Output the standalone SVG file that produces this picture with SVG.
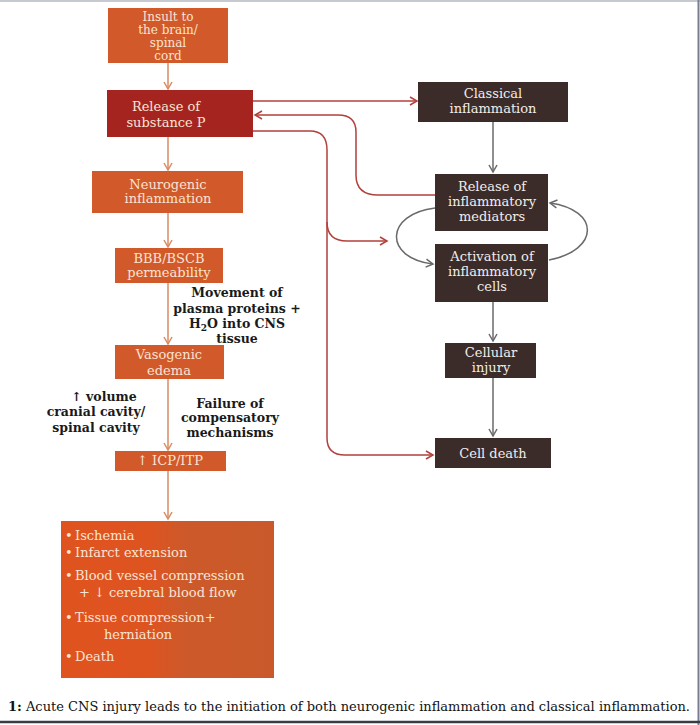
<svg xmlns="http://www.w3.org/2000/svg" width="700" height="725" viewBox="0 0 700 725">
<defs>
<style>
.t{font-family:"DejaVu Serif","Liberation Serif",serif;font-size:13px;text-anchor:middle}
.sm{font-size:12px}
.lt{fill:#f8e4d4}
.wt{fill:#f3ede9;font-size:13px}
.bl{font-family:"DejaVu Serif","Liberation Serif",serif;font-size:12.5px;font-weight:bold;fill:#1a1a1a;text-anchor:middle}
.li{font-family:"DejaVu Serif","Liberation Serif",serif;font-size:13px;fill:#f8e4d4}
.or{fill:#d2592a}
.dk{fill:#3b2b29}
.co{fill:none;stroke-width:1.5}
.c1{stroke:#d98b63}
.c2{stroke:#b3403c}
.c3{stroke:#6a6a6a}
</style>
<marker id="ao" markerWidth="10" markerHeight="10" refX="8" refY="5" orient="auto" markerUnits="userSpaceOnUse"><path d="M1,1 L8,5 L1,9" fill="none" stroke="#d98b63" stroke-width="1.5"/></marker>
<marker id="ar" markerWidth="10" markerHeight="10" refX="8" refY="5" orient="auto" markerUnits="userSpaceOnUse"><path d="M1,1 L8,5 L1,9" fill="none" stroke="#b3403c" stroke-width="1.5"/></marker>
<marker id="ag" markerWidth="10" markerHeight="10" refX="8" refY="5" orient="auto" markerUnits="userSpaceOnUse"><path d="M1,1 L8,5 L1,9" fill="none" stroke="#6a6a6a" stroke-width="1.5"/></marker>
<linearGradient id="lg" x1="0" y1="0" x2="1" y2="0">
<stop offset="0" stop-color="#e0531f"/><stop offset="0.42" stop-color="#dd5421"/><stop offset="0.58" stop-color="#cd592a"/><stop offset="1" stop-color="#c9592b"/>
</linearGradient>
</defs>
<rect width="700" height="725" fill="#ffffff"/>
<line x1="0" y1="1" x2="700" y2="1" stroke="#b4b8c0" stroke-width="1.5"/>
<line x1="698.5" y1="0" x2="698.5" y2="725" stroke="#7a7e90" stroke-width="2"/>
<line x1="0" y1="722" x2="700" y2="722" stroke="#3a3c44" stroke-width="2.5"/>

<g id="connectors">
<path class="co c1" d="M168,63 V89" marker-end="url(#ao)"/>
<path class="co c1" d="M168,137 V170" marker-end="url(#ao)"/>
<path class="co c1" d="M168,213 V247" marker-end="url(#ao)"/>
<path class="co c1" d="M168,283 V344" marker-end="url(#ao)"/>
<path class="co c1" d="M168,379 V450" marker-end="url(#ao)"/>
<path class="co c1" d="M168,471 V519" marker-end="url(#ao)"/>
<path class="co c2" d="M253,101 H417" marker-end="url(#ar)"/>
<path class="co c2" d="M435,195 H378 Q356,195 356,175 V132 Q356,115 338,115 H255" marker-end="url(#ar)"/>
<path class="co c2" d="M253,131 H310 Q327,131 327,150 V438 Q327,455 345,455 H433" marker-end="url(#ar)"/>
<path class="co c2" d="M327,222 Q327,241 347,241 H387" marker-end="url(#ar)"/>
<path class="co c3" d="M493,122 V172" marker-end="url(#ag)"/>
<path class="co c3" d="M435,208 C385,214 383,258 433,264" marker-end="url(#ag)"/>
<path class="co c3" d="M549,260 C600,250 600,210 550,203" marker-end="url(#ag)"/>
<path class="co c3" d="M493,302 V341" marker-end="url(#ag)"/>
<path class="co c3" d="M493,378 V436" marker-end="url(#ag)"/>
</g>

<g id="insult">
<rect class="or" x="108" y="8" width="120" height="55"/>
<text class="t sm lt" x="168" y="21">Insult to</text>
<text class="t sm lt" x="168" y="34">the brain/</text>
<text class="t sm lt" x="168" y="47">spinal</text>
<text class="t sm lt" x="168" y="60">cord</text>
</g>
<g id="substanceP">
<rect x="107" y="90" width="146" height="47" fill="#a52420"/>
<text class="t lt" x="166" y="111">Release of</text>
<text class="t lt" x="166" y="127">substance P</text>
</g>
<g id="neurogenic">
<rect class="or" x="92" y="171" width="151" height="42"/>
<text class="t lt" x="168" y="189">Neurogenic</text>
<text class="t lt" x="168" y="203">inflammation</text>
</g>
<g id="bbb">
<rect class="or" x="115" y="248" width="108" height="35"/>
<text class="t lt" x="169" y="263">BBB/BSCB</text>
<text class="t lt" x="169" y="277">permeability</text>
</g>
<g id="movement">
<text class="bl" x="237" y="297">Movement of</text>
<text class="bl" x="237" y="313">plasma proteins +</text>
<text class="bl" x="237" y="328">H<tspan font-size="9" dy="3">2</tspan><tspan dy="-3">O into CNS</tspan></text>
<text class="bl" x="237" y="343">tissue</text>
</g>
<g id="vasogenic">
<rect class="or" x="115" y="345" width="109" height="34"/>
<text class="t lt" x="169" y="359">Vasogenic</text>
<text class="t lt" x="169" y="375">edema</text>
</g>
<g id="volume">
<text class="bl" x="104" y="401">↑ volume</text>
<text class="bl" x="96" y="416">cranial cavity/</text>
<text class="bl" x="96" y="432">spinal cavity</text>
</g>
<g id="failure">
<text class="bl" x="230" y="408">Failure of</text>
<text class="bl" x="230" y="422">compensatory</text>
<text class="bl" x="230" y="437">mechanisms</text>
</g>
<g id="icp">
<rect class="or" x="115" y="451" width="111" height="20"/>
<text class="t lt" x="170" y="465">↑ ICP/ITP</text>
</g>
<g id="outcomes">
<rect x="61" y="521" width="213" height="157" fill="url(#lg)"/>
<text class="li" x="65" y="540">•</text><text class="li" x="75" y="540">Ischemia</text>
<text class="li" x="65" y="557">•</text><text class="li" x="75" y="557">Infarct extension</text>
<text class="li" x="65" y="580">•</text><text class="li" x="75" y="580">Blood vessel compression</text>
<text class="li" x="79" y="597">+ ↓ cerebral blood flow</text>
<text class="li" x="65" y="622">•</text><text class="li" x="75" y="622">Tissue compression+</text>
<text class="li" x="104" y="639">herniation</text>
<text class="li" x="65" y="661">•</text><text class="li" x="75" y="661">Death</text>
</g>
<g id="classical">
<rect class="dk" x="418" y="82" width="150" height="40"/>
<text class="t wt" x="493" y="98">Classical</text>
<text class="t wt" x="493" y="113">inflammation</text>
</g>
<g id="mediators">
<rect class="dk" x="435" y="174" width="113" height="57"/>
<text class="t wt" x="492" y="191">Release of</text>
<text class="t wt" x="492" y="206">inflammatory</text>
<text class="t wt" x="492" y="221">mediators</text>
</g>
<g id="activation">
<rect class="dk" x="435" y="244" width="113" height="58"/>
<text class="t wt" x="492" y="261">Activation of</text>
<text class="t wt" x="492" y="276">inflammatory</text>
<text class="t wt" x="492" y="291">cells</text>
</g>
<g id="cellular">
<rect class="dk" x="445" y="343" width="91" height="35"/>
<text class="t wt" x="491" y="357">Cellular</text>
<text class="t wt" x="491" y="372">injury</text>
</g>
<g id="celldeath">
<rect class="dk" x="435" y="438" width="116" height="30"/>
<text class="t wt" x="493" y="458">Cell death</text>
</g>
<g id="caption">
<text x="8" y="711" font-family="DejaVu Serif, Liberation Serif, serif" font-size="12" fill="#111" textLength="682" lengthAdjust="spacingAndGlyphs"><tspan font-weight="bold">1:</tspan> Acute CNS injury leads to the initiation of both neurogenic inflammation and classical inflammation.</text>
</g>
</svg>
